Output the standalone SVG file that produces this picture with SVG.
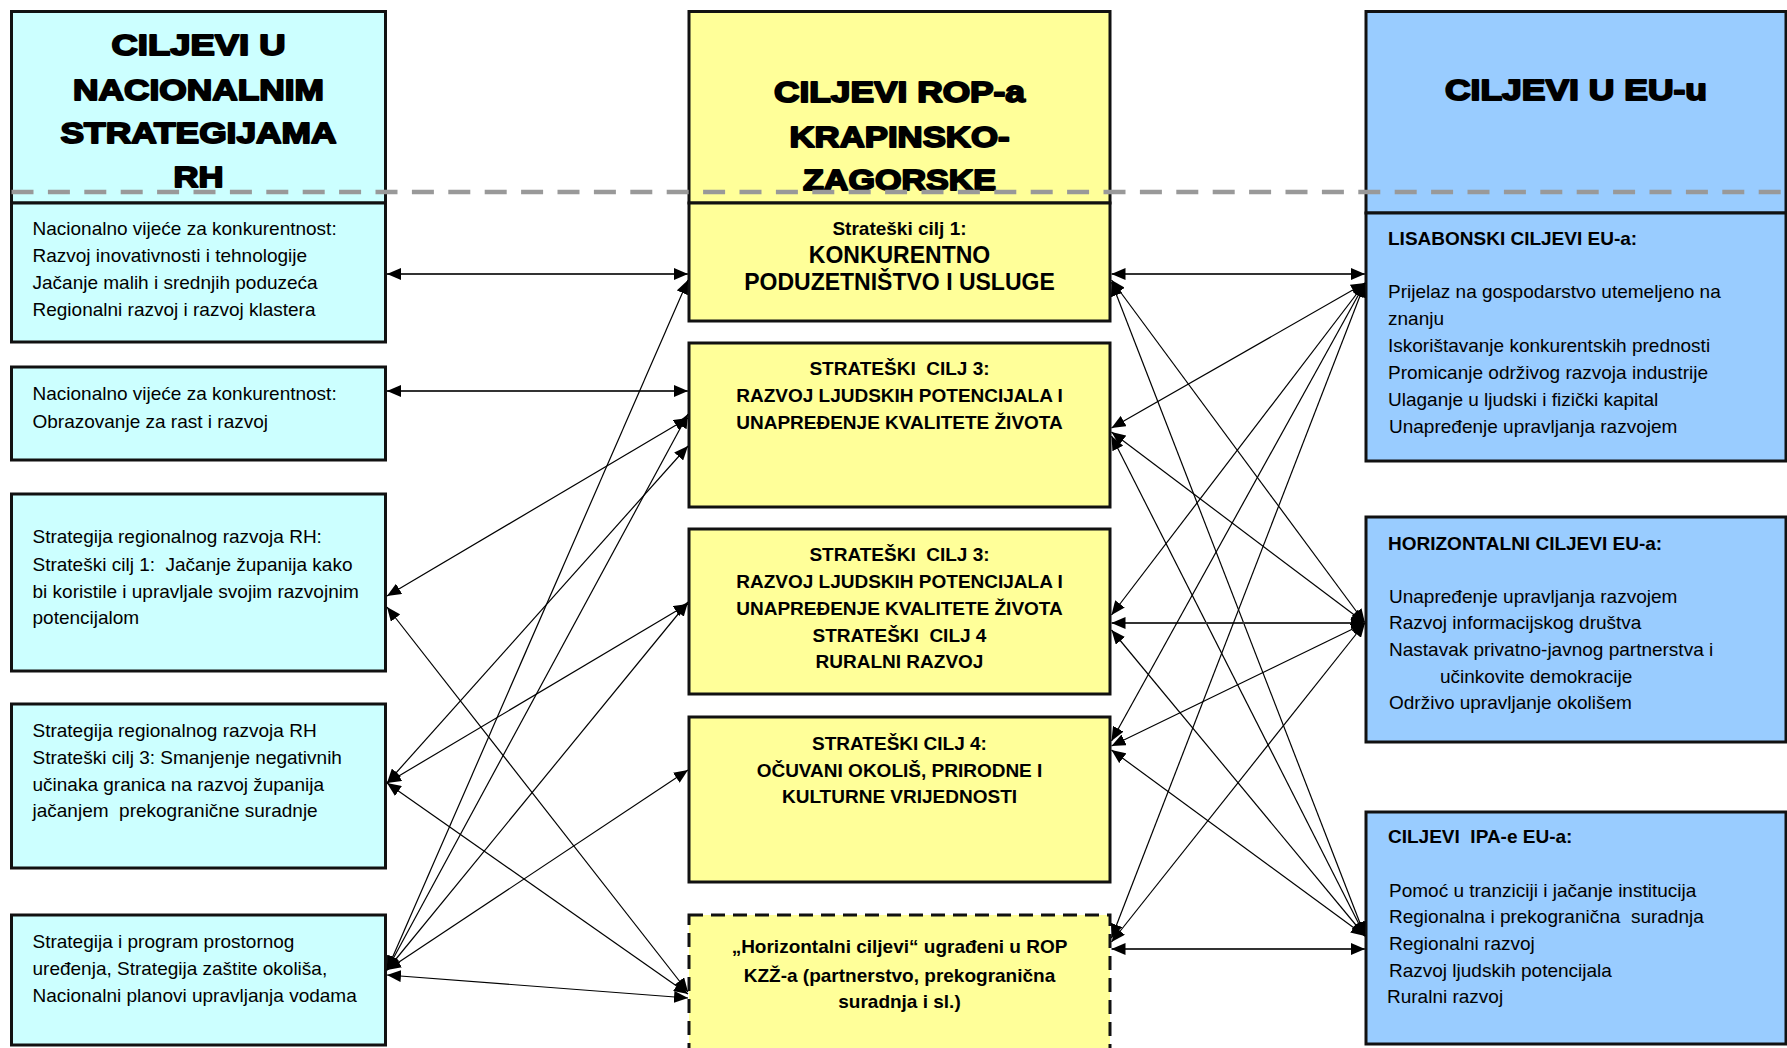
<svg xmlns="http://www.w3.org/2000/svg" width="1787" height="1048" viewBox="0 0 1787 1048">
<style>
.bl{fill:#CCFFFF;stroke:#111;stroke-width:3}
.bm{fill:#FFFF99;stroke:#111;stroke-width:3}
.br{fill:#99CCFF;stroke:#111;stroke-width:3}
.dash{stroke-dasharray:14 8}
text{font-family:"Liberation Sans",Arial,sans-serif;fill:#000}
.hd{font-size:29px;font-weight:bold;stroke:#000;stroke-width:1.8;stroke-linejoin:round;text-anchor:middle}
.t{font-size:19px}
.b{font-size:19px;font-weight:bold}
.bc{font-size:19px;font-weight:bold;text-anchor:middle}
.bc2{font-size:23px;font-weight:bold;text-anchor:middle}
.c line{stroke:#000;stroke-width:1.2;marker-start:url(#ah);marker-end:url(#ah)}
.c line.h{stroke:#333;stroke-width:1.8}
</style>
<defs>
<marker id="ah" viewBox="0 0 14 12" refX="14" refY="6" markerWidth="14" markerHeight="12" markerUnits="userSpaceOnUse" orient="auto-start-reverse"><path d="M0,0 L14,6 L0,12 z" fill="#000"/></marker>
</defs>
<rect width="1787" height="1048" fill="#fff"/>

<g id="hdr-left"><rect class="bl" x="11.5" y="11.5" width="374" height="191.5"/>
<text class="hd" x="198.5" y="55" textLength="174" lengthAdjust="spacingAndGlyphs">CILJEVI U</text>
<text class="hd" x="198.5" y="100" textLength="251" lengthAdjust="spacingAndGlyphs">NACIONALNIM</text>
<text class="hd" x="198.5" y="143" textLength="276" lengthAdjust="spacingAndGlyphs">STRATEGIJAMA</text>
<text class="hd" x="198.5" y="187" textLength="50" lengthAdjust="spacingAndGlyphs">RH</text></g>

<g id="hdr-mid"><rect class="bm" x="689" y="11.5" width="421" height="191.5"/>
<text class="hd" x="899.5" y="102" textLength="251" lengthAdjust="spacingAndGlyphs">CILJEVI ROP-a</text>
<text class="hd" x="899.5" y="147" textLength="220" lengthAdjust="spacingAndGlyphs">KRAPINSKO-</text>
<text class="hd" x="899.5" y="190" textLength="193" lengthAdjust="spacingAndGlyphs">ZAGORSKE</text></g>

<g id="hdr-right"><rect class="br" x="1366" y="11.5" width="420" height="201.5"/>
<text class="hd" x="1576" y="100" textLength="262" lengthAdjust="spacingAndGlyphs">CILJEVI U EU-u</text></g>

<g id="L1"><rect class="bl" x="11.5" y="203" width="374" height="139"/>
<text class="t" x="32.5" y="235">Nacionalno vijeće za konkurentnost:</text>
<text class="t" x="32.5" y="262">Razvoj inovativnosti i tehnologije</text>
<text class="t" x="32.5" y="289">Jačanje malih i srednjih poduzeća</text>
<text class="t" x="32.5" y="316">Regionalni razvoj i razvoj klastera</text></g>

<g id="L2"><rect class="bl" x="11.5" y="367" width="374" height="93"/>
<text class="t" x="32.5" y="400">Nacionalno vijeće za konkurentnost:</text>
<text class="t" x="32.5" y="428">Obrazovanje za rast i razvoj</text></g>

<g id="L3"><rect class="bl" x="11.5" y="494" width="374" height="177"/>
<text class="t" x="32.5" y="543">Strategija regionalnog razvoja RH:</text>
<text class="t" x="32.5" y="571">Strateški cilj 1:&#160; Jačanje županija kako</text>
<text class="t" x="32.5" y="598">bi koristile i upravljale svojim razvojnim</text>
<text class="t" x="32.5" y="624">potencijalom</text></g>

<g id="L4"><rect class="bl" x="11.5" y="704" width="374" height="164"/>
<text class="t" x="32.5" y="737">Strategija regionalnog razvoja RH</text>
<text class="t" x="32.5" y="764">Strateški cilj 3: Smanjenje negativnih</text>
<text class="t" x="32.5" y="791">učinaka granica na razvoj županija</text>
<text class="t" x="32.5" y="817">jačanjem&#160; prekogranične suradnje</text></g>

<g id="L5"><rect class="bl" x="11.5" y="915" width="374" height="130"/>
<text class="t" x="32.5" y="948">Strategija i program prostornog</text>
<text class="t" x="32.5" y="975">uređenja, Strategija zaštite okoliša,</text>
<text class="t" x="32.5" y="1002">Nacionalni planovi upravljanja vodama</text></g>

<g id="M1"><rect class="bm" x="689" y="203" width="421" height="118"/>
<text class="bc" x="899.5" y="235">Strateški cilj 1:</text>
<text class="bc2" x="899.5" y="263">KONKURENTNO</text>
<text class="bc2" x="899.5" y="290">PODUZETNIŠTVO I USLUGE</text></g>

<g id="M2"><rect class="bm" x="689" y="343" width="421" height="164"/>
<text class="bc" x="899.5" y="375">STRATEŠKI&#160; CILJ 3:</text>
<text class="bc" x="899.5" y="402">RAZVOJ LJUDSKIH POTENCIJALA I</text>
<text class="bc" x="899.5" y="429">UNAPREĐENJE KVALITETE ŽIVOTA</text></g>

<g id="M3"><rect class="bm" x="689" y="529" width="421" height="165"/>
<text class="bc" x="899.5" y="561">STRATEŠKI&#160; CILJ 3:</text>
<text class="bc" x="899.5" y="588">RAZVOJ LJUDSKIH POTENCIJALA I</text>
<text class="bc" x="899.5" y="615">UNAPREĐENJE KVALITETE ŽIVOTA</text>
<text class="bc" x="899.5" y="642">STRATEŠKI&#160; CILJ 4</text>
<text class="bc" x="899.5" y="668">RURALNI RAZVOJ</text></g>

<g id="M4"><rect class="bm" x="689" y="717" width="421" height="165"/>
<text class="bc" x="899.5" y="750">STRATEŠKI CILJ 4:</text>
<text class="bc" x="899.5" y="777">OČUVANI OKOLIŠ, PRIRODNE I</text>
<text class="bc" x="899.5" y="803">KULTURNE VRIJEDNOSTI</text></g>

<g id="M5"><rect class="bm dash" x="689" y="915" width="421" height="145"/>
<text class="bc" x="899.5" y="953">„Horizontalni ciljevi“ ugrađeni u ROP</text>
<text class="bc" x="899.5" y="982">KZŽ-a (partnerstvo, prekogranična</text>
<text class="bc" x="899.5" y="1008">suradnja i sl.)</text></g>

<g id="R1"><rect class="br" x="1366" y="213" width="420" height="248"/>
<text class="b" x="1388" y="245">LISABONSKI CILJEVI EU-a:</text>
<text class="t" x="1388" y="298">Prijelaz na gospodarstvo utemeljeno na</text>
<text class="t" x="1388" y="325">znanju</text>
<text class="t" x="1388" y="352">Iskorištavanje konkurentskih prednosti</text>
<text class="t" x="1388" y="379">Promicanje održivog razvoja industrije</text>
<text class="t" x="1388" y="406">Ulaganje u ljudski i fizički kapital</text>
<text class="t" x="1389" y="433">Unapređenje upravljanja razvojem</text></g>

<g id="R2"><rect class="br" x="1366" y="517" width="420" height="225"/>
<text class="b" x="1388" y="550">HORIZONTALNI CILJEVI EU-a:</text>
<text class="t" x="1389" y="603">Unapređenje upravljanja razvojem</text>
<text class="t" x="1389" y="629">Razvoj informacijskog društva</text>
<text class="t" x="1389" y="656">Nastavak privatno-javnog partnerstva i</text>
<text class="t" x="1440" y="683">učinkovite demokracije</text>
<text class="t" x="1389" y="709">Održivo upravljanje okolišem</text></g>

<g id="R3"><rect class="br" x="1366" y="812" width="420" height="232"/>
<text class="b" x="1388" y="843">CILJEVI&#160; IPA-e EU-a:</text>
<text class="t" x="1389" y="897">Pomoć u tranziciji i jačanje institucija</text>
<text class="t" x="1389" y="923">Regionalna i prekogranična&#160; suradnja</text>
<text class="t" x="1389" y="950">Regionalni razvoj</text>
<text class="t" x="1389" y="977">Razvoj ljudskih potencijala</text>
<text class="t" x="1387" y="1003">Ruralni razvoj</text></g>

<g id="connectors" class="c">
<line class="h" x1="387" y1="274" x2="688" y2="274"/>
<line class="h" x1="387" y1="391" x2="688" y2="391"/>
<line x1="387" y1="596" x2="688" y2="418"/>
<line x1="387" y1="607" x2="688" y2="992"/>
<line x1="387" y1="783" x2="688" y2="446"/>
<line x1="387" y1="783" x2="688" y2="604"/>
<line x1="387" y1="783" x2="688" y2="994"/>
<line x1="387" y1="970" x2="688" y2="280"/>
<line x1="387" y1="970" x2="688" y2="414"/>
<line x1="387" y1="970" x2="688" y2="602"/>
<line x1="387" y1="970" x2="688" y2="770"/>
<line x1="387" y1="975" x2="688" y2="998"/>

<line class="h" x1="1111.5" y1="274" x2="1365" y2="274"/>
<line x1="1111.5" y1="280" x2="1365" y2="623"/>
<line x1="1111.5" y1="282" x2="1365" y2="936"/>
<line x1="1111.5" y1="428" x2="1365" y2="283"/>
<line x1="1111.5" y1="432" x2="1365" y2="623"/>
<line x1="1111.5" y1="436" x2="1365" y2="936"/>
<line x1="1111.5" y1="615" x2="1365" y2="283"/>
<line class="h" x1="1111.5" y1="623" x2="1365" y2="623"/>
<line x1="1111.5" y1="630" x2="1365" y2="936"/>
<line x1="1111.5" y1="741" x2="1365" y2="283"/>
<line x1="1111.5" y1="746" x2="1365" y2="623"/>
<line x1="1111.5" y1="750" x2="1365" y2="936"/>
<line x1="1111.5" y1="938" x2="1365" y2="283"/>
<line x1="1111.5" y1="942" x2="1365" y2="623"/>
<line class="h" x1="1111.5" y1="949" x2="1365" y2="949"/>
</g>

<line id="divider" x1="11.5" y1="192" x2="1787" y2="192" stroke="#999" stroke-width="4.5" stroke-dasharray="22 14.4"/>
</svg>
